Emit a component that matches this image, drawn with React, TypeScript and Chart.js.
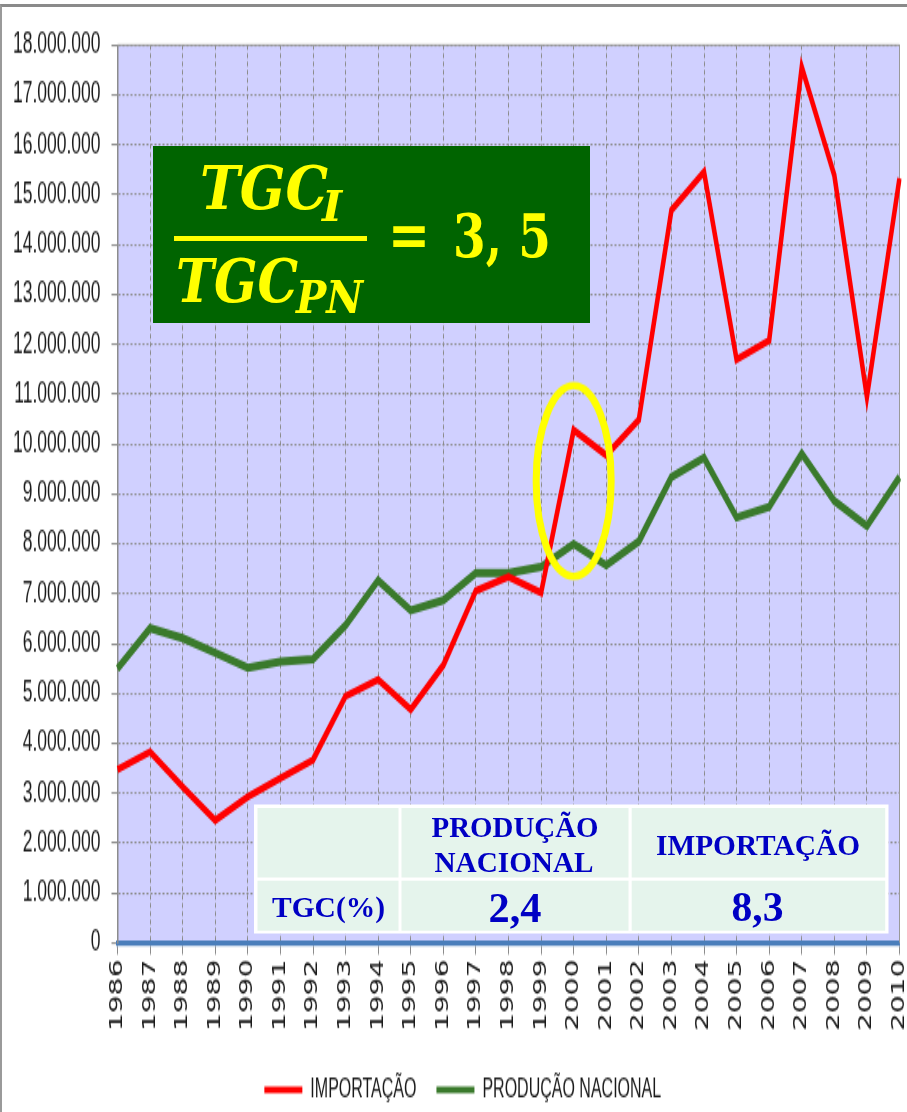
import React, { useEffect, useRef } from 'react';
import { Chart, registerables } from 'chart.js';

Chart.register(...registerables);

// ---------- data ----------
const YEARS = [
  '1986', '1987', '1988', '1989', '1990', '1991', '1992', '1993', '1994', '1995',
  '1996', '1997', '1998', '1999', '2000', '2001', '2002', '2003', '2004', '2005',
  '2006', '2007', '2008', '2009', '2010',
];

const IMPORTACAO = [
  3480000, 3830000, 3130000, 2460000, 2930000, 3300000, 3670000, 4950000, 5280000, 4680000,
  5570000, 7060000, 7340000, 7020000, 10280000, 9780000, 10490000, 14690000, 15460000, 11700000,
  12080000, 17560000, 15390000, 10950000, 15330000,
];

const PRODUCAO_NACIONAL = [
  5500000, 6310000, 6110000, 5820000, 5520000, 5640000, 5690000, 6370000, 7270000, 6670000,
  6870000, 7420000, 7420000, 7540000, 8000000, 7570000, 8050000, 9340000, 9730000, 8530000,
  8740000, 9810000, 8860000, 8360000, 9340000,
];

const SERIES_NAMES = ['IMPORTAÇÃO', 'PRODUÇÃO NACIONAL'];
const Y_MIN = 0;
const Y_MAX = 18000000;
const Y_STEP = 1000000;

const TABLE_HEAD_PN = ['PRODUÇÃO', 'NACIONAL'];
const TABLE_HEAD_IMP = 'IMPORTAÇÃO';
const TABLE_ROW_LABEL = 'TGC(%)';
const TGC_VALUES = ['2,4', '8,3'];
const RATIO_VALUE = '3, 5';

const HIGHLIGHT_YEAR = '2000';
const HIGHLIGHT_VALUE = 9260000;

// ---------- layout ----------
const S = 1.65; // vertical stretch of the original picture
const CANVAS_W = 907;
const CANVAS_H = 680;
const LEGEND_SHIFT = 26;

const fmt = (v: number | string) =>
  String(Math.round(Number(v))).replace(/\B(?=(\d{3})+(?!\d))/g, '.');

const bgPlugin = {
  id: 'plotBg',
  afterLayout(chart: any) {
    if (chart.legend) chart.legend.left += LEGEND_SHIFT;
  },
  beforeDraw(chart: any) {
    const { ctx, chartArea: a } = chart;
    ctx.save();
    ctx.fillStyle = '#d0d0ff';
    ctx.fillRect(a.left, a.top, a.right - a.left, a.bottom - a.top);
    ctx.restore();
  },
  beforeDatasetsDraw(chart: any) {
    const { ctx, chartArea: a } = chart;
    ctx.save();
    ctx.strokeStyle = '#9a9a9a';
    ctx.lineWidth = 1;
    ctx.setLineDash([]);
    ctx.beginPath();
    ctx.moveTo(a.left, a.top);
    ctx.lineTo(a.right, a.top);
    ctx.lineTo(a.right, a.bottom);
    ctx.stroke();
    ctx.restore();
  },
};

const highlightPlugin = {
  id: 'highlight',
  afterDatasetsDraw(chart: any) {
    const { ctx } = chart;
    const x = chart.scales.x;
    const y = chart.scales.y;
    const cx = x.getPixelForValue(YEARS.indexOf(HIGHLIGHT_YEAR));
    const cy = y.getPixelForValue(HIGHLIGHT_VALUE);
    ctx.save();
    ctx.translate(cx, cy);
    ctx.scale(1, 1 / S);
    ctx.beginPath();
    ctx.ellipse(0, 0, 37.5, 95.5, 0, 0, Math.PI * 2);
    ctx.lineWidth = 7;
    ctx.strokeStyle = '#ffff00';
    ctx.stroke();
    ctx.restore();
  },
};

export default function App() {
  const ref = useRef<HTMLCanvasElement | null>(null);

  useEffect(() => {
    if (!ref.current) return;
    const chart = new Chart(ref.current, {
      type: 'line',
      data: {
        labels: YEARS,
        datasets: [
          {
            label: SERIES_NAMES[0],
            data: IMPORTACAO,
            borderColor: '#ff0000',
            backgroundColor: '#ff0000',
            borderWidth: 4.5,
            pointRadius: 0,
            tension: 0,
            fill: false,
          },
          {
            label: SERIES_NAMES[1],
            data: PRODUCAO_NACIONAL,
            borderColor: '#3a7a2c',
            backgroundColor: '#3a7a2c',
            borderWidth: 5,
            pointRadius: 0,
            tension: 0,
            fill: false,
          },
        ],
      },
      options: {
        responsive: false,
        animation: false,
        layout: { padding: { left: 0, right: 7.5, top: 27.3, bottom: 1.4 } },
        plugins: {
          legend: {
            position: 'bottom',
            labels: {
              boxWidth: 38,
              boxHeight: 4,
              padding: 20,
              color: '#1a1a1a',
              font: { family: '"Liberation Sans", Arial, sans-serif', size: 16 },
              generateLabels: (c: any) =>
                c.data.datasets.map((ds: any, i: number) => ({
                  text: ds.label,
                  fillStyle: ds.borderColor,
                  strokeStyle: ds.borderColor,
                  lineWidth: 0,
                  hidden: false,
                  datasetIndex: i,
                  fontColor: '#1a1a1a',
                })),
            },
          },
          tooltip: { enabled: false },
        },
        scales: {
          x: {
            type: 'category',
            offset: false,
            grid: {
              color: '#8c8c8c',
              lineWidth: 1,
              tickLength: 7,
              tickColor: '#8c8c8c',
            },
            border: { color: '#4a7ebb', width: 3.3, dash: [3, 2] },
            ticks: {
              autoSkip: false,
              maxRotation: 90,
              minRotation: 90,
              padding: 3,
              color: '#1a1a1a',
              font: { family: '"DejaVu Sans", sans-serif', size: 17 },
            },
            afterFit: (s: any) => {
              s.height = 61.1;
              s.paddingLeft = 0;
              s.paddingRight = 0;
            },
          },
          y: {
            min: Y_MIN,
            max: Y_MAX,
            grid: {
              color: '#8c8c8c',
              lineWidth: 1.1,
              tickLength: 6,
              tickColor: '#8c8c8c',
            },
            border: { color: '#8c8c8c', width: 1.5, dash: [2, 2] },
            ticks: {
              stepSize: Y_STEP,
              padding: 11,
              color: '#1a1a1a',
              font: { family: '"Liberation Sans", Arial, sans-serif', size: 17.5 },
              callback: (v: any) => fmt(v),
            },
            afterFit: (s: any) => {
              s.width = 117.5;
              s.paddingTop = 0;
              s.paddingBottom = 0;
            },
          },
        },
      } as any,
      plugins: [bgPlugin, highlightPlugin],
    });
    return () => chart.destroy();
  }, []);

  const yellow = '#ffff00';
  const serifBI = '"DejaVu Serif", serif';
  const blue = '#0000c4';
  const cell = '#e5f4ec';
  const times = '"Liberation Serif", "Times New Roman", serif';

  return (
    <div
      style={{
        position: 'absolute',
        left: 0,
        top: 0,
        width: 907,
        height: 1112,
        overflow: 'hidden',
        background: '#ffffff',
      }}
    >
      <div
        style={{
          position: 'absolute',
          left: 0,
          top: 0,
          width: CANVAS_W,
          height: CANVAS_H,
          transform: `scaleY(${S})`,
          transformOrigin: '0 0',
        }}
      >
        <canvas ref={ref} width={CANVAS_W} height={CANVAS_H} style={{ display: 'block' }} />
      </div>
      <div
        style={{
          position: 'absolute',
          left: 0,
          top: 4,
          width: 907,
          height: 1108,
          borderTop: '3px solid #8a8a8a',
          borderLeft: '2px solid #9a9a9a',
          boxSizing: 'border-box',
          pointerEvents: 'none',
        }}
      />
      <svg
        width={907}
        height={1112}
        style={{ position: 'absolute', left: 0, top: 0, pointerEvents: 'none' }}
      >
        {/* ratio box */}
        <rect x={153} y={146} width={437} height={177} fill="#006400" />
        <text x={200} y={209} fill={yellow} fontFamily={serifBI} fontWeight="bold" fontStyle="italic"
          fontSize={60} textLength={128} lengthAdjust="spacingAndGlyphs">TGC</text>
        <text x={322} y={221} fill={yellow} fontFamily={serifBI} fontWeight="bold" fontStyle="italic"
          fontSize={43}>I</text>
        <rect x={174} y={236} width={193} height={5} fill={yellow} />
        <text x={176} y={301.5} fill={yellow} fontFamily={serifBI} fontWeight="bold" fontStyle="italic"
          fontSize={60} textLength={122} lengthAdjust="spacingAndGlyphs">TGC</text>
        <text x={296} y={313} fill={yellow} fontFamily={serifBI} fontWeight="bold" fontStyle="italic"
          fontSize={45} textLength={67} lengthAdjust="spacingAndGlyphs">PN</text>
        <text x={388} y={256} fill={yellow} fontFamily={serifBI} fontWeight="bold"
          fontSize={62} textLength={42} lengthAdjust="spacingAndGlyphs">=</text>
        <text x={453} y={257} fill={yellow} fontFamily={serifBI} fontWeight="bold"
          fontSize={60} textLength={98} lengthAdjust="spacingAndGlyphs">{RATIO_VALUE}</text>

        {/* TGC table */}
        <rect x={254} y={804.5} width={634.5} height={129} fill="#ffffff" />
        <rect x={257.5} y={808} width={141} height={69.5} fill={cell} />
        <rect x={401.5} y={808} width={227} height={69.5} fill={cell} />
        <rect x={631.7} y={808} width={253.5} height={69.5} fill={cell} />
        <rect x={257.5} y={880.7} width={141} height={50} fill={cell} />
        <rect x={401.5} y={880.7} width={227} height={50} fill={cell} />
        <rect x={631.7} y={880.7} width={253.5} height={50} fill={cell} />
        <text x={515} y={837.3} textAnchor="middle" fill={blue} fontFamily={times} fontWeight="bold"
          fontSize={29} textLength={167} lengthAdjust="spacingAndGlyphs">{TABLE_HEAD_PN[0]}</text>
        <text x={514} y={872} textAnchor="middle" fill={blue} fontFamily={times} fontWeight="bold"
          fontSize={29} textLength={159} lengthAdjust="spacingAndGlyphs">{TABLE_HEAD_PN[1]}</text>
        <text x={758} y={854.7} textAnchor="middle" fill={blue} fontFamily={times} fontWeight="bold"
          fontSize={29} textLength={204} lengthAdjust="spacingAndGlyphs">{TABLE_HEAD_IMP}</text>
        <text x={328.5} y={917.3} textAnchor="middle" fill={blue} fontFamily={times} fontWeight="bold"
          fontSize={29} textLength={113} lengthAdjust="spacingAndGlyphs">{TABLE_ROW_LABEL}</text>
        <text x={515} y={922} textAnchor="middle" fill={blue} fontFamily={times} fontWeight="bold"
          fontSize={42} textLength={53} lengthAdjust="spacingAndGlyphs">{TGC_VALUES[0]}</text>
        <text x={757.5} y={921.3} textAnchor="middle" fill={blue} fontFamily={times} fontWeight="bold"
          fontSize={42} textLength={52} lengthAdjust="spacingAndGlyphs">{TGC_VALUES[1]}</text>
      </svg>
    </div>
  );
}
